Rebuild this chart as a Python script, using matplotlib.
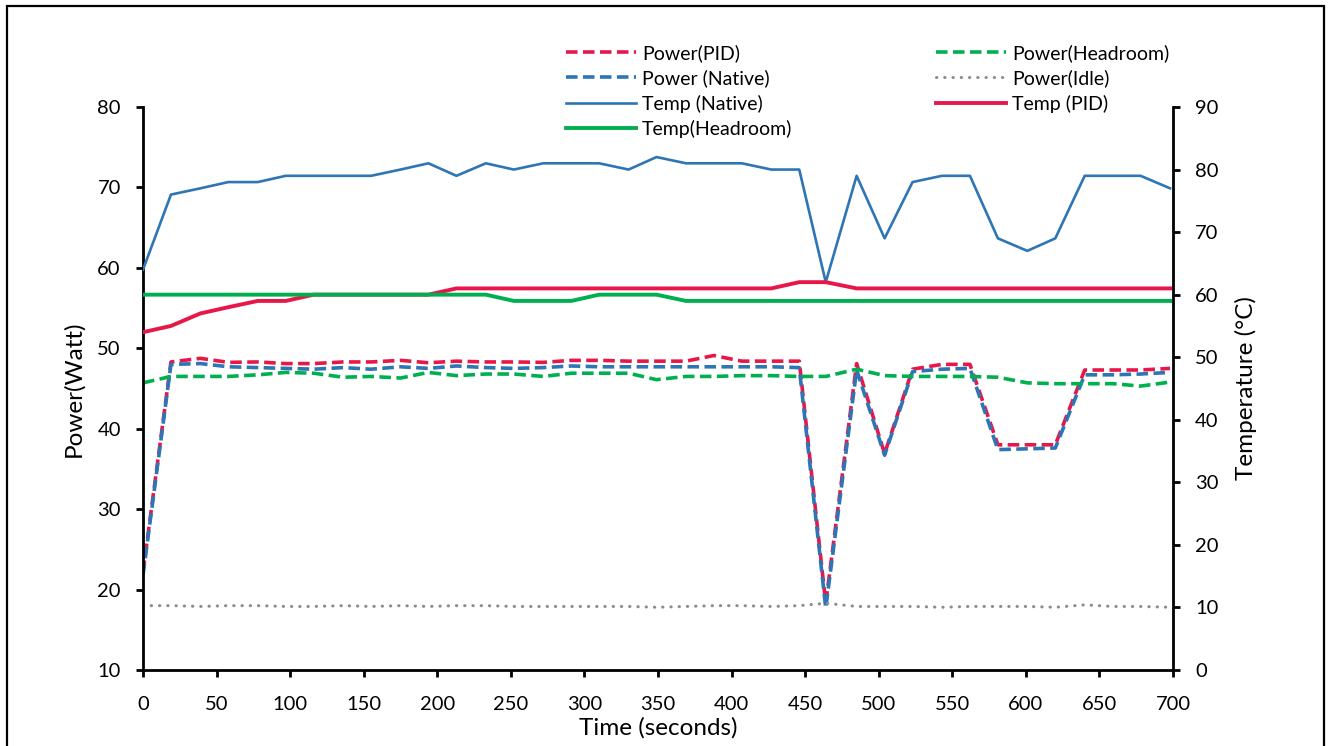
import matplotlib
matplotlib.use('Agg')
import matplotlib.pyplot as plt
from matplotlib.patches import Rectangle

RED = '#E8174A'
BLUE = '#2E75B6'
GREEN = '#00B050'
GREY = '#8C8C8C'

plt.rcParams['font.family'] = ['Lato', 'DejaVu Sans']

# sample times (seconds)
time_s = [0, 19, 39, 58, 78, 97, 116, 136, 155, 175, 194, 213, 233, 252, 272, 291,
          310, 330, 349, 369, 388, 407, 427, 446, 464, 485, 504, 523, 543, 562,
          581, 601, 620, 640, 659, 678, 698]

# power in watts
power_pid = [22.2, 48.3, 48.75, 48.25, 48.3, 48.1, 48.1, 48.3, 48.3, 48.5, 48.2, 48.4,
             48.3, 48.3, 48.25, 48.5, 48.5, 48.4, 48.4, 48.4, 49.1, 48.4, 48.4, 48.4,
             18.3, 48.1, 36.9, 47.4, 48.0, 48.0, 38.0, 38.0, 38.0, 47.3, 47.3, 47.3, 47.5]
power_native = [21.8, 48.0, 48.1, 47.7, 47.6, 47.5, 47.4, 47.6, 47.4, 47.7, 47.5, 47.8,
                47.6, 47.5, 47.6, 47.8, 47.7, 47.7, 47.7, 47.7, 47.7, 47.7, 47.7, 47.6,
                17.7, 47.3, 36.7, 47.1, 47.4, 47.5, 37.4, 37.5, 37.6, 46.7, 46.7, 46.8, 47.0]
power_headroom = [45.7, 46.5, 46.5, 46.5, 46.7, 47.0, 46.9, 46.4, 46.5, 46.3, 47.0, 46.6,
                  46.8, 46.8, 46.5, 46.9, 46.9, 46.9, 46.1, 46.5, 46.5, 46.6, 46.6, 46.5,
                  46.5, 47.4, 46.6, 46.5, 46.5, 46.5, 46.4, 45.7, 45.6, 45.6, 45.6, 45.3, 45.8]
power_idle = [18.0, 18.0, 17.9, 18.0, 18.0, 17.9, 17.9, 18.0, 17.9, 18.0, 17.9, 18.0,
              18.0, 17.9, 17.9, 17.9, 17.9, 17.9, 17.8, 17.9, 18.0, 18.0, 17.9, 18.0,
              18.3, 17.9, 17.9, 17.9, 17.8, 17.9, 17.9, 17.9, 17.8, 18.1, 17.9, 17.9, 17.8]

# temperature in degrees C
temp_native = [64, 76, 77, 78, 78, 79, 79, 79, 79, 80, 81, 79, 81, 80, 81, 81, 81, 80,
               82, 81, 81, 81, 80, 80, 62, 79, 69, 78, 79, 79, 69, 67, 69, 79, 79, 79, 77]
temp_pid = [54, 55, 57, 58, 59, 59, 60, 60, 60, 60, 60, 61, 61, 61, 61, 61, 61, 61,
            61, 61, 61, 61, 61, 62, 62, 61, 61, 61, 61, 61, 61, 61, 61, 61, 61, 61, 61]
temp_headroom = [60, 60, 60, 60, 60, 60, 60, 60, 60, 60, 60, 60, 60, 59, 59, 59, 60, 60,
                 60, 59, 59, 59, 59, 59, 59, 59, 59, 59, 59, 59, 59, 59, 59, 59, 59, 59, 59]


def add_legend(fig, handles, x_px):
    fig.legend(handles=handles, labels=[h.get_label() for h in handles],
               loc='upper left', bbox_to_anchor=(x_px / 1333, 1 - 44 / 746),
               frameon=False, fontsize=14, borderpad=0, borderaxespad=0,
               handlelength=3.6, handletextpad=0.3, labelspacing=0.38)


def main():
    fig = plt.figure(figsize=(13.33, 7.46), dpi=100)
    ax = fig.add_axes([143 / 1333, 1 - 670 / 746, 1030 / 1333, 563 / 746])
    ax2 = ax.twinx()

    dash = (0, (3.2, 1.5))
    h1, = ax.plot(time_s, power_pid, color=RED, lw=2.6, ls=dash, label='Power(PID)')
    h2, = ax.plot(time_s, power_native, color=BLUE, lw=2.6, ls=dash, label='Power (Native)')
    h5, = ax.plot(time_s, power_headroom, color=GREEN, lw=2.6, ls=dash, label='Power(Headroom)')
    h6, = ax.plot(time_s, power_idle, color=GREY, lw=2.2, ls=(0, (0.1, 2.6)),
                  dash_capstyle='round', label='Power(Idle)')

    h3, = ax2.plot(time_s, temp_native, color=BLUE, lw=1.9, label='Temp (Native)')
    h7, = ax2.plot(time_s, temp_pid, color=RED, lw=2.8, label='Temp (PID)')
    h4, = ax2.plot(time_s, temp_headroom, color=GREEN, lw=2.8, label='Temp(Headroom)')

    ax.set_xlim(0, 700)
    ax.set_ylim(10, 80)
    ax2.set_ylim(0, 90)
    ax.set_xticks(range(0, 701, 50))
    ax.set_yticks(range(10, 81, 10))
    ax2.set_yticks(range(0, 91, 10))

    for a in (ax, ax2):
        a.spines['top'].set_visible(False)
        for s in ('left', 'right', 'bottom'):
            a.spines[s].set_linewidth(2.0)
        a.tick_params(direction='out', length=5, width=2.0, labelsize=14.5, pad=11)
    ax.tick_params(axis='x', pad=14)
    ax.spines['right'].set_visible(False)
    ax2.spines['left'].set_visible(False)
    ax2.spines['bottom'].set_visible(False)

    ax.set_xlabel('Time (seconds)', fontsize=17.5, labelpad=3)
    ax.set_ylabel('Power(Watt)', fontsize=17.5, labelpad=9)
    ax2.set_ylabel('Temperature (°C)', fontsize=17.5, labelpad=12)

    add_legend(fig, [h1, h2, h3, h4], 566)
    add_legend(fig, [h5, h6, h7], 936)

    # outer frame
    fig.patches.append(Rectangle((7 / 1333, -0.02), 1317 / 1333, 1.02 - 6 / 746,
                                 transform=fig.transFigure, fill=False,
                                 edgecolor='black', lw=1.6))

    fig.savefig('out.png', dpi=100)


if __name__ == '__main__':
    main()
